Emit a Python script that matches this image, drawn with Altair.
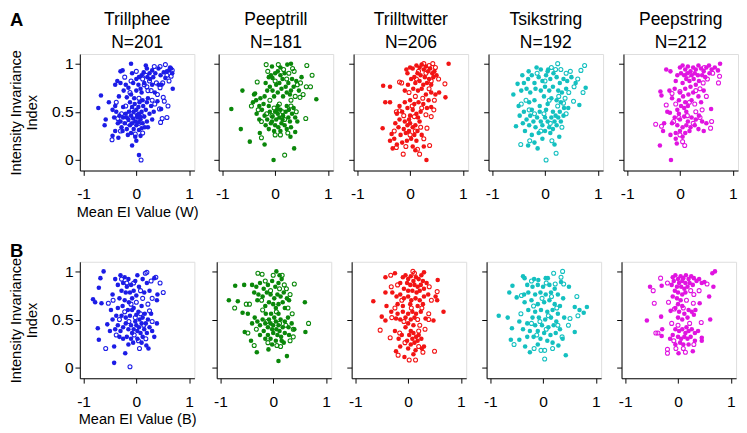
import altair as alt
import pandas as pd

FONT = "Liberation Sans"

names = ["Trillphee", "Peeptrill", "Trilltwitter", "Tsikstring", "Peepstring"]
counts = [201, 181, 206, 192, 212]
colors = ["#1c1ce6", "#0a870a", "#f21414", "#14c0c0", "#e014e0"]
x_ticks = [-1, 0, 1]
y_ticks = [0, 0.5, 1]
x_titles = ["Mean EI Value (W)", "Mean EI Value (B)"]
y_title = ["Intensity Invariance", "Index"]
row_letters = ["A", "B"]

# ---------------- Row A (W) ----------------
F_A1 = [(-0.10,1.00),(0.18,0.98),(0.20,0.95),(0.64,0.96),(0.62,0.93),(0.69,0.74),(-0.30,0.92),(-0.26,0.93),(-0.36,0.82),(-0.30,0.80),(-0.20,0.78),(-0.24,0.72),(-0.15,0.75),(-0.06,0.80),(0.05,0.86),(0.10,0.88),(0.14,0.91),(0.21,0.86),(0.25,0.90),(0.30,0.93),(0.36,0.90),(0.42,0.95),(0.46,0.88),(0.52,0.91),(0.58,0.92),(0.55,0.85),(0.68,0.90),(0.66,0.95),(0.00,0.72),(-0.10,0.68),(0.10,0.70),(-0.33,0.66),(-0.18,0.65),(0.30,0.78),(0.42,0.78),(0.35,0.70),(0.22,0.64),(0.12,0.62),(-0.04,0.64),(0.04,0.78),(0.15,0.80),(0.26,0.84),(-0.40,0.78),(-0.08,0.90),(0.00,0.84),(0.08,0.74),(0.32,0.86),(0.48,0.78),
        (-0.05,0.50),(0.00,0.52),(0.05,0.48),(-0.10,0.46),(0.02,0.44),(-0.15,0.42),(0.08,0.42),(-0.02,0.40),(0.10,0.50),(-0.08,0.55),(0.04,0.55),(-0.20,0.48),(-0.25,0.44),(-0.30,0.40),(-0.22,0.38),(-0.12,0.36),(0.00,0.36),(0.12,0.38),(0.15,0.45),(-0.05,0.32),(0.05,0.31),(-0.18,0.32),(-0.28,0.34),(-0.35,0.38),(-0.32,0.46),(-0.38,0.50),(0.18,0.52),(0.20,0.40),(0.10,0.33),(-0.10,0.28),(0.02,0.47),(-0.06,0.43),(0.07,0.45),(-0.14,0.50),(0.13,0.56),(-0.03,0.58),(0.06,0.60),(0.20,0.60),(-0.12,0.60),(-0.25,0.55),(-0.45,0.52),(-0.42,0.44),(0.25,0.48),(0.28,0.56),(0.30,0.42),(0.22,0.34),(-0.40,0.30),(-0.45,0.25),(-0.34,0.23),(-0.08,0.15),(0.00,0.20),(0.05,0.05),(-0.72,0.54),(-0.67,0.67),(-0.60,0.36),(-0.58,0.42),(-0.52,0.60),(-0.40,0.56),(-0.18,0.44),(-0.08,0.38),(0.04,0.39),(0.16,0.34),(-0.26,0.30),(-0.16,0.26),(0.40,0.61),(0.47,0.53),(0.33,0.50),(-0.02,0.24),(0.08,0.25)]
O_A1 = [(0.34,0.97),(0.45,0.97),(0.55,0.99),(0.68,0.93),(0.66,0.87),(0.50,0.80),(0.45,0.75),(0.38,0.80),(0.25,0.82),(0.20,0.76),(0.15,0.78),(0.28,0.72),(0.40,0.68),(0.51,0.65),(0.53,0.61),(0.58,0.44),(0.49,0.43),(0.46,0.39),(-0.46,0.21),(0.09,0.00),(-0.10,0.82),(-0.22,0.86),(-0.38,0.60),(-0.28,0.48),(-0.35,0.43),(-0.15,0.38),(0.05,0.38),(0.12,0.28),(-0.02,0.27),(-0.08,0.52),(0.30,0.62),(0.12,0.84),(0.58,0.88),(0.35,0.58),(0.22,0.72),(-0.30,0.30),(0.00,0.92),(0.60,0.56),(0.44,0.53),(-0.12,0.70),(0.05,0.64),(0.62,0.82),(0.18,0.88),(-0.20,0.56),(0.10,0.46),(-0.05,0.46)]

F_A2 = [(-0.06,0.97),(0.23,0.99),(0.30,1.00),(0.50,0.86),(0.78,0.63),(-0.62,0.72),(-0.83,0.53),(-0.65,0.32),(-0.48,0.19),(-0.40,0.68),(-0.38,0.69),(-0.42,0.60),(-0.29,0.28),(-0.20,0.16),(-0.03,0.00),(0.36,0.12),(0.29,0.24),(0.38,0.29),
        (-0.12,0.86),(-0.08,0.88),(-0.05,0.85),(0.00,0.90),(0.05,0.92),(0.10,0.88),(0.14,0.84),(0.18,0.90),(0.08,0.80),(0.02,0.78),(-0.10,0.76),(-0.15,0.72),(-0.05,0.72),(0.05,0.70),(0.12,0.74),(0.20,0.76),(0.25,0.80),(0.30,0.72),(0.35,0.76),(0.28,0.68),(0.15,0.66),(-0.02,0.66),(-0.18,0.80),(0.40,0.82),(0.10,0.96),(0.22,0.70),(0.32,0.84),(-0.20,0.66),(0.45,0.72),
        (0.00,0.50),(0.05,0.48),(0.10,0.52),(-0.05,0.45),(0.02,0.42),(0.08,0.44),(0.15,0.46),(0.20,0.50),(0.25,0.44),(-0.10,0.50),(-0.15,0.42),(-0.08,0.38),(0.00,0.36),(0.06,0.34),(0.12,0.38),(0.18,0.36),(0.28,0.40),(0.32,0.48),(0.38,0.44),(-0.20,0.46),(-0.25,0.52),(-0.30,0.56),(-0.22,0.58),(-0.12,0.56),(0.05,0.56),(0.22,0.56),(-0.02,0.30),(-0.12,0.32),(0.10,0.30),(0.22,0.32),(-0.30,0.42),(-0.35,0.48),(0.30,0.34),(-0.18,0.36),(0.14,0.42),(0.04,0.52),(-0.06,0.40),(0.26,0.52),(-0.36,0.62),(-0.28,0.64),(0.42,0.40),(0.35,0.54)]
O_A2 = [(-0.17,0.99),(0.06,0.99),(0.33,0.95),(0.60,0.98),(0.70,0.88),(0.59,0.76),(0.67,0.76),(0.53,0.68),(0.47,0.65),(-0.34,0.81),(-0.45,0.56),(-0.26,0.23),(0.18,0.05),(0.58,0.43),(0.38,0.66),(0.42,0.78),(0.26,0.90),(0.36,0.92),(0.16,0.94),(0.00,0.82),(-0.14,0.92),(0.22,0.84),(0.48,0.80),(0.30,0.62),(-0.10,0.62),(-0.06,0.46),(0.08,0.58),(0.18,0.42),(0.30,0.56),(-0.16,0.48),(-0.26,0.40),(0.10,0.26),(0.00,0.26),(0.24,0.28),(0.40,0.50),(-0.32,0.52),(0.14,0.50),(-0.02,0.54)]

F_A3 = [(0.73,1.00),(-0.07,0.94),(-0.05,0.90),(0.00,0.96),(0.05,0.95),(0.12,0.98),(0.18,0.96),(0.22,0.99),(0.26,0.94),(0.30,0.97),(0.34,0.92),(0.38,0.95),(0.42,0.90),(0.46,0.92),(0.14,0.90),(0.20,0.88),(0.08,0.86),(0.28,0.86),(0.36,0.84),(0.44,0.86),(0.50,0.88),(0.02,0.84),(0.10,0.80),(0.18,0.82),(0.25,0.78),(0.32,0.80),(0.40,0.78),(-0.04,0.78),(0.06,0.74),(0.15,0.72),(0.22,0.74),(-0.10,0.72),(-0.51,0.77),(-0.38,0.76),(-0.47,0.60),(-0.38,0.60),(0.67,0.65),(0.55,0.70),(0.48,0.68),(0.40,0.70),(0.30,0.68),
        (-0.20,0.56),(-0.10,0.60),(0.00,0.62),(0.08,0.58),(0.16,0.60),(0.25,0.58),(0.35,0.62),(-0.25,0.48),(-0.15,0.50),(0.05,0.52),(0.12,0.48),(0.20,0.50),(0.32,0.54),(0.00,0.46),(-0.05,0.54),(0.40,0.55),
        (-0.52,0.33),(-0.35,0.27),(-0.30,0.22),(-0.33,0.12),(0.31,0.00),(0.26,0.14),(-0.10,0.40),(-0.05,0.36),(0.00,0.38),(0.05,0.34),(0.10,0.36),(-0.12,0.32),(-0.08,0.28),(-0.02,0.30),(0.08,0.26),(0.14,0.30),(-0.18,0.26),(-0.22,0.34),(-0.28,0.38),(0.02,0.22),(-0.06,0.20),(0.12,0.20),(-0.15,0.18),(-0.25,0.16),(0.18,0.40),(0.22,0.26),(-0.38,0.20),(0.05,0.14),(-0.02,0.42),(0.15,0.44),(-0.20,0.42),(0.10,0.10)]
O_A3 = [(0.43,1.00),(0.26,1.00),(0.36,0.98),(0.48,0.96),(0.16,0.92),(0.30,0.90),(0.54,0.84),(0.66,0.79),(-0.20,0.81),(-0.16,0.80),(0.45,0.52),(0.32,0.33),(-0.26,0.50),(-0.20,0.51),(-0.26,0.13),(-0.13,0.06),(0.14,0.11),(0.37,0.15),(0.24,0.64),(0.10,0.66),(0.46,0.62),(0.36,0.74),(0.12,0.84),(0.04,0.56),(0.22,0.54),(0.30,0.47),(0.40,0.45),(0.08,0.45),(-0.12,0.46),(0.20,0.34),(0.10,0.30),(-0.30,0.30),(0.00,0.26),(0.26,0.22),(-0.08,0.14),(0.18,0.06),(0.40,0.82),(-0.02,0.70)]

F_A4 = [(0.77,0.75),(0.65,0.57),(-0.60,0.68),(-0.52,0.79),(-0.43,0.88),(-0.31,0.92),(-0.16,0.96),(0.06,0.94),(-0.55,0.35),(-0.32,0.15),(-0.14,0.12),(0.27,0.24),(-0.05,0.22),(0.44,0.54),
        (-0.40,0.80),(-0.32,0.84),(-0.25,0.88),(-0.20,0.80),(-0.12,0.86),(-0.05,0.82),(0.02,0.88),(0.10,0.84),(0.16,0.90),(0.22,0.86),(0.28,0.80),(0.35,0.84),(0.42,0.82),(0.50,0.86),(0.58,0.80),(-0.45,0.72),(-0.35,0.74),(-0.28,0.70),(-0.18,0.74),(-0.08,0.72),(0.00,0.76),(0.08,0.72),(0.15,0.76),(0.25,0.72),(0.32,0.70),(0.40,0.74),(-0.02,0.66),(0.12,0.64),(0.22,0.62),(-0.20,0.62),(-0.30,0.60),(0.30,0.60),(0.05,0.92),(-0.08,0.94),
        (-0.48,0.46),(-0.40,0.50),(-0.35,0.42),(-0.28,0.46),(-0.22,0.40),(-0.15,0.44),(-0.08,0.40),(0.00,0.44),(0.05,0.40),(0.12,0.44),(0.18,0.40),(0.25,0.44),(0.30,0.40),(-0.30,0.36),(-0.18,0.34),(-0.05,0.36),(0.08,0.34),(0.15,0.32),(-0.42,0.38),(-0.10,0.50),(0.02,0.52),(0.15,0.50),(0.28,0.50),(-0.25,0.52),(0.20,0.46),(-0.38,0.30),(0.10,0.28),(-0.12,0.28),(0.00,0.30),(-0.25,0.26),(0.22,0.36),(0.35,0.46),(-0.50,0.56),(-0.10,0.56),(0.05,0.58),(0.36,0.54),(-0.20,0.18),(0.18,0.16)]
O_A4 = [(0.24,1.00),(0.75,0.98),(0.68,0.93),(0.72,0.70),(0.54,0.61),(-0.45,0.58),(-0.36,0.62),(-0.46,0.16),(-0.29,0.20),(0.02,0.00),(0.21,0.07),(0.13,0.20),(0.35,0.59),(0.30,0.94),(0.40,0.90),(0.48,0.92),(0.20,0.94),(0.12,0.96),(0.55,0.76),(0.62,0.84),(0.45,0.70),(-0.15,0.90),(0.00,0.82),(0.26,0.66),(0.38,0.64),(0.08,0.62),(-0.02,0.48),(0.24,0.56),(0.40,0.48),(-0.30,0.52),(-0.20,0.48),(0.10,0.38),(0.32,0.34),(-0.08,0.30)]

F_A5 = [(0.76,1.00),(-0.26,0.94),(-0.18,0.92),(-0.37,0.71),(-0.35,0.67),(-0.24,0.50),(-0.19,0.49),(-0.30,0.38),(-0.32,0.30),(-0.38,0.15),(-0.17,0.00),(-0.06,0.17),(0.59,0.53),(0.45,0.30),(-0.18,0.26),(-0.08,0.22),
        (0.00,0.96),(0.05,0.98),(0.10,0.94),(0.15,0.97),(0.20,0.92),(0.25,0.96),(0.30,0.94),(0.35,0.98),(0.40,0.95),(0.45,0.92),(0.50,0.96),(0.55,0.98),(0.60,0.94),(0.66,0.96),(0.72,0.93),(0.02,0.90),(0.08,0.88),(0.14,0.90),(0.22,0.88),(0.28,0.90),(0.34,0.88),(0.42,0.88),(0.48,0.86),(0.56,0.90),(-0.05,0.88),(0.12,0.84),(0.18,0.82),(0.26,0.84),(0.36,0.82),(0.05,0.80),(-0.08,0.82),(0.30,0.78),(0.20,0.76),(0.10,0.74),
        (-0.20,0.72),(-0.10,0.74),(0.00,0.70),(0.06,0.66),(0.16,0.68),(0.25,0.70),(0.35,0.66),(0.45,0.72),(-0.15,0.64),(-0.02,0.62),(0.10,0.60),(0.22,0.62),(0.40,0.60),(0.02,0.56),(0.08,0.54),(0.15,0.56),(-0.05,0.52),(0.12,0.50),
        (-0.10,0.44),(0.00,0.42),(0.08,0.45),(0.15,0.40),(0.22,0.44),(0.30,0.42),(0.36,0.46),(0.42,0.40),(-0.05,0.36),(0.05,0.34),(0.12,0.36),(0.20,0.34),(0.28,0.36),(-0.15,0.38),(0.00,0.30),(0.10,0.28),(0.18,0.30),(0.35,0.32),(-0.08,0.28),(0.05,0.24),(0.50,0.38),(-0.02,0.48)]
O_A5 = [(0.75,0.87),(0.73,0.80),(-0.15,0.69),(0.00,0.71),(-0.26,0.57),(-0.46,0.37),(-0.35,0.35),(0.05,0.19),(0.09,0.15),(0.60,0.40),(0.58,0.33),(0.62,0.90),(0.52,0.84),(0.44,0.80),(0.30,0.72),(0.38,0.74),(0.50,0.66),(0.28,0.58),(0.42,0.52),(-0.08,0.58),(0.18,0.60),(-0.12,0.40),(0.25,0.38),(0.00,0.26),(0.38,0.44),(0.16,0.88),(0.46,0.96),(-0.02,0.44),(0.14,0.46),(0.30,0.50)]

# ---------------- Row B (B) ----------------
F_B1 = [(-0.62,1.00),(-0.68,0.93),(-0.71,0.83),(-0.82,0.71),(-0.78,0.68),(-0.66,0.67),(-0.45,0.76),(-0.48,0.60),(-0.73,0.41),(-0.71,0.29),(-0.42,0.22),(-0.42,0.05),(-0.21,0.15),(0.34,0.93),(0.39,0.70),(0.40,0.76),(0.39,0.46),(0.34,0.32),(0.19,0.23),(0.23,0.20),
        (-0.40,0.92),(-0.30,0.96),(-0.22,0.94),(-0.15,0.92),(-0.35,0.86),(-0.25,0.88),(-0.18,0.84),(-0.10,0.86),(-0.28,0.80),(-0.20,0.78),(-0.12,0.78),(-0.05,0.80),(0.05,0.84),(0.12,0.92),(0.20,0.88),(0.25,0.80),(0.15,0.78),(-0.32,0.72),(-0.22,0.70),(-0.14,0.68),(-0.08,0.72),(0.00,0.75),(-0.26,0.64),(-0.16,0.60),(-0.05,0.62),(0.10,0.64),(-0.35,0.62),(0.02,0.96),(-0.02,0.90),
        (0.00,0.44),(0.05,0.42),(0.10,0.46),(-0.05,0.40),(0.02,0.38),(0.08,0.36),(0.15,0.40),(-0.10,0.44),(-0.15,0.40),(-0.08,0.36),(-0.02,0.48),(0.06,0.50),(0.12,0.52),(0.18,0.46),(0.22,0.50),(0.25,0.42),(-0.20,0.46),(-0.25,0.42),(-0.30,0.38),(-0.35,0.44),(-0.40,0.40),(-0.45,0.50),(-0.20,0.52),(-0.12,0.54),(-0.28,0.54),(-0.38,0.54),(0.00,0.55),(0.16,0.56),(-0.18,0.32),(-0.10,0.30),(0.02,0.30),(0.12,0.32),(-0.25,0.30),(-0.32,0.32),(0.20,0.36),(-0.50,0.38),(-0.55,0.45),(0.28,0.56),(0.30,0.38),(-0.06,0.26),(0.10,0.26),(-0.15,0.24),(0.04,0.58),(-0.08,0.60)]
O_B1 = [(-0.53,0.67),(-0.44,0.70),(-0.58,0.20),(0.04,0.28),(0.17,0.98),(0.20,0.99),(0.37,0.94),(0.45,0.88),(0.51,0.78),(0.22,0.66),(0.25,0.59),(-0.12,0.01),(-0.18,0.88),(-0.05,0.88),(0.08,0.80),(0.28,0.90),(-0.28,0.92),(0.30,0.72),(0.12,0.72),(-0.10,0.66),(0.00,0.68),(-0.32,0.50),(-0.22,0.58),(0.08,0.56),(-0.04,0.34),(0.14,0.44),(-0.14,0.48),(0.30,0.48),(-0.38,0.34),(0.06,0.20),(-0.02,0.52),(0.18,0.30)]

F_B2 = [(0.06,1.00),(0.12,0.96),(-0.72,0.85),(-0.55,0.86),(-0.84,0.70),(-0.67,0.69),(-0.58,0.57),(-0.48,0.56),(0.60,0.68),(0.61,0.37),(0.29,0.42),(-0.54,0.37),(-0.42,0.28),(-0.31,0.16),(-0.09,0.19),(0.10,0.07),(0.26,0.12),(0.16,0.28),
        (-0.40,0.86),(-0.32,0.84),(-0.25,0.88),(-0.18,0.82),(-0.10,0.86),(-0.02,0.90),(0.04,0.84),(0.10,0.88),(0.16,0.92),(-0.36,0.78),(-0.28,0.76),(-0.20,0.74),(-0.12,0.78),(-0.05,0.76),(0.02,0.72),(0.08,0.76),(0.14,0.74),(0.20,0.78),(0.26,0.72),(-0.08,0.68),(0.00,0.66),(0.10,0.66),(0.18,0.68),(-0.15,0.64),(0.22,0.62),(-0.30,0.70),(0.30,0.70),(0.05,0.62),
        (-0.05,0.46),(0.00,0.44),(0.05,0.48),(0.10,0.44),(-0.10,0.42),(-0.02,0.40),(0.06,0.40),(0.12,0.38),(0.18,0.42),(-0.15,0.46),(-0.20,0.50),(-0.08,0.50),(0.02,0.52),(0.14,0.50),(0.22,0.48),(-0.25,0.44),(-0.30,0.48),(-0.18,0.38),(-0.10,0.34),(0.00,0.36),(0.08,0.34),(0.15,0.32),(0.22,0.36),(-0.05,0.30),(0.05,0.28),(-0.15,0.30),(-0.35,0.52),(-0.40,0.46),(0.28,0.52),(0.35,0.46),(0.30,0.34),(-0.25,0.34),(-0.04,0.56),(0.10,0.56),(-0.14,0.56),(0.20,0.26),(-0.02,0.24),(0.40,0.40)]
O_B2 = [(-0.29,0.98),(-0.21,0.97),(0.00,0.96),(0.17,0.96),(0.21,0.86),(0.40,0.87),(-0.73,0.62),(-0.51,0.66),(-0.45,0.66),(0.67,0.46),(0.38,0.32),(0.38,0.40),(-0.48,0.36),(-0.36,0.23),(0.07,0.23),(-0.15,0.90),(-0.05,0.80),(0.25,0.82),(0.32,0.76),(0.12,0.82),(-0.22,0.70),(0.28,0.62),(-0.20,0.60),(0.06,0.58),(0.24,0.44),(-0.12,0.48),(0.12,0.46),(-0.32,0.40),(0.32,0.28),(-0.10,0.26),(0.14,0.22),(0.36,0.56)]

F_B3 = [(-0.66,0.69),(-0.43,0.94),(-0.25,0.98),(0.30,0.99),(0.56,0.91),(0.52,0.74),(0.55,0.70),(-0.43,0.78),(-0.41,0.64),(-0.50,0.53),(-0.43,0.49),(-0.23,0.51),(-0.25,0.38),(-0.23,0.17),(-0.07,0.11),(0.26,0.20),(0.67,0.58),(0.33,0.51),(0.48,0.49),
        (-0.10,0.94),(-0.05,0.96),(0.00,0.92),(0.05,0.95),(0.10,0.90),(0.15,0.94),(0.20,0.92),(0.25,0.96),(0.28,0.90),(-0.02,0.88),(0.04,0.86),(0.12,0.86),(0.18,0.84),(0.24,0.86),(-0.15,0.88),(0.08,0.80),(0.16,0.78),(0.22,0.80),(0.30,0.82),(0.35,0.88),(0.00,0.80),(-0.08,0.82),
        (-0.30,0.78),(-0.22,0.74),(-0.15,0.76),(-0.08,0.72),(0.00,0.74),(0.06,0.70),(0.14,0.72),(0.22,0.70),(0.30,0.74),(0.38,0.76),(-0.20,0.66),(-0.10,0.64),(0.04,0.66),(0.18,0.64),(0.28,0.66),
        (-0.32,0.58),(-0.20,0.56),(-0.10,0.58),(0.00,0.56),(0.08,0.58),(0.15,0.56),(0.24,0.58),(-0.05,0.52),(0.05,0.50),(0.12,0.52),(-0.15,0.50),(0.00,0.46),(0.10,0.44),(-0.05,0.42),
        (0.05,0.38),(0.02,0.34),(0.10,0.36),(0.15,0.32),(0.08,0.30),(0.18,0.28),(0.12,0.26),(0.05,0.24),(0.20,0.34),(-0.02,0.28),(0.25,0.30),(-0.12,0.34),(-0.18,0.30),(0.00,0.20),(0.14,0.18),(-0.15,0.22),(0.10,0.14),(0.30,0.22)]
O_B3 = [(-0.33,0.96),(0.09,1.00),(0.55,0.79),(-0.32,0.84),(-0.31,0.52),(-0.53,0.39),(-0.34,0.31),(-0.16,0.36),(-0.19,0.13),(0.02,0.08),(0.28,0.16),(0.50,0.17),(0.39,0.56),(0.39,0.50),(0.20,0.38),(0.44,0.70),(0.40,0.84),(0.12,0.98),(-0.20,0.86),(0.26,0.62),(-0.25,0.62),(0.18,0.50),(-0.08,0.48),(0.06,0.62),(0.22,0.44),(-0.06,0.26),(0.20,0.22),(0.32,0.40),(-0.12,0.70),(0.14,0.08)]

F_B4 = [(0.05,0.93),(0.09,0.93),(-0.09,0.91),(-0.17,0.92),(-0.38,0.95),(-0.35,0.93),(0.34,0.89),(0.49,0.84),(-0.58,0.85),(-0.64,0.78),(-0.50,0.73),(-0.36,0.76),(0.60,0.63),(0.69,0.60),(0.83,0.63),(0.77,0.57),(0.60,0.37),(-0.84,0.54),(-0.67,0.52),(-0.59,0.41),(-0.61,0.29),(-0.45,0.29),(-0.34,0.22),(-0.25,0.16),(0.29,0.23),(0.37,0.30),(0.43,0.13),
        (-0.30,0.86),(-0.20,0.84),(-0.10,0.86),(0.00,0.84),(0.12,0.86),(0.22,0.82),(-0.28,0.78),(-0.15,0.76),(-0.05,0.78),(0.05,0.76),(0.15,0.78),(0.28,0.76),(0.38,0.72),(-0.35,0.68),(-0.22,0.70),(-0.10,0.66),(0.02,0.68),(0.12,0.70),(0.22,0.66),(0.32,0.64),(-0.28,0.60),(-0.15,0.58),(-0.04,0.60),(0.08,0.58),(0.18,0.60),(0.28,0.56),(-0.20,0.52),(-0.08,0.52),(0.04,0.50),(0.15,0.52),(0.25,0.48),(-0.30,0.46),(-0.15,0.44),(-0.02,0.44),(0.10,0.42),(0.20,0.44),(0.32,0.40),(-0.38,0.40),(-0.25,0.38),(-0.10,0.38),(0.02,0.36),(0.14,0.34),(0.24,0.36),(-0.18,0.32),(-0.05,0.30),(0.08,0.28),(-0.30,0.32),(0.18,0.26),(-0.45,0.48),(0.40,0.52),(-0.10,0.24)]
O_B4 = [(0.37,1.00),(0.20,0.98),(0.34,0.94),(0.39,0.87),(0.23,0.87),(-0.41,0.75),(0.64,0.74),(0.66,0.54),(0.51,0.51),(0.48,0.44),(-0.55,0.24),(-0.42,0.56),(-0.17,0.20),(-0.04,0.18),(0.03,0.18),(0.03,0.09),(0.18,0.20),(-0.22,0.90),(0.06,0.88),(0.16,0.74),(-0.02,0.72),(0.26,0.62),(-0.18,0.64),(0.10,0.54),(-0.06,0.48),(0.28,0.44),(-0.22,0.46),(0.06,0.40),(0.36,0.32),(-0.12,0.34)]

F_B5 = [(0.70,1.00),(0.65,0.98),(0.67,0.84),(0.50,0.89),(-0.53,0.84),(-0.31,0.85),(0.41,0.67),(0.33,0.60),(0.59,0.74),(0.61,0.50),(0.45,0.31),(0.45,0.28),(0.32,0.28),(-0.59,0.49),(-0.32,0.53),(-0.30,0.40),(-0.31,0.33),(0.01,0.15),(0.28,0.17),(-0.14,0.59),
        (-0.10,0.94),(-0.05,0.96),(0.00,0.92),(0.05,0.95),(0.10,0.93),(0.15,0.96),(0.20,0.92),(0.25,0.95),(0.30,0.93),(0.35,0.90),(-0.08,0.90),(0.02,0.88),(0.08,0.90),(0.14,0.88),(0.22,0.88),(0.28,0.86),(0.40,0.92),(0.45,0.88),(-0.02,0.84),(0.06,0.84),(0.12,0.82),(0.18,0.84),(-0.12,0.86),(0.00,0.78),(0.08,0.76),(0.14,0.78),(-0.06,0.80),
        (-0.10,0.74),(-0.02,0.72),(0.05,0.70),(0.00,0.66),(0.08,0.64),(-0.05,0.62),(0.02,0.58),(0.12,0.56),(0.20,0.60),(0.26,0.58),(0.30,0.55),(0.18,0.52),(0.08,0.50),(0.00,0.52),
        (-0.05,0.40),(0.02,0.38),(0.08,0.40),(0.14,0.36),(0.20,0.38),(0.26,0.40),(0.32,0.36),(-0.10,0.34),(0.00,0.32),(0.06,0.30),(0.12,0.32),(0.18,0.30),(0.24,0.32),(-0.15,0.30),(0.04,0.26),(0.10,0.24),(0.20,0.24),(-0.05,0.24),(0.16,0.42),(0.38,0.38)]
O_B5 = [(0.55,0.87),(-0.33,0.93),(-0.47,0.80),(-0.45,0.67),(0.29,0.67),(0.44,0.47),(-0.42,0.36),(-0.38,0.36),(-0.20,0.19),(-0.20,0.15),(-0.04,0.20),(-0.18,0.68),(-0.07,0.61),(0.24,0.80),(0.30,0.76),(0.10,0.62),(0.16,0.70),(-0.12,0.46),(0.22,0.46),(0.00,0.44),(-0.08,0.28),(0.10,0.20),(0.30,0.24),(0.40,0.80),(-0.20,0.88),(0.14,0.16)]

rows_data = [
    [(F_A1, O_A1), (F_A2, O_A2), (F_A3, O_A3), (F_A4, O_A4), (F_A5, O_A5)],
    [(F_B1, O_B1), (F_B2, O_B2), (F_B3, O_B3), (F_B4, O_B4), (F_B5, O_B5)],
]

PW, PH = 118, 120


def text_layer(txt, x, y, size, weight="normal", align="center"):
    return alt.Chart(pd.DataFrame({"t": [txt]})).mark_text(
        font=FONT, fontSize=size, fontWeight=weight, align=align, baseline="alphabetic", color="black"
    ).encode(text="t:N", x=alt.value(x), y=alt.value(y))


def make_panel(filled, opened, color, row, col):
    df = pd.DataFrame(
        [{"x": a, "y": b, "kind": "filled"} for a, b in filled]
        + [{"x": a, "y": b, "kind": "open"} for a, b in opened]
    )
    xkw = dict(values=x_ticks, labelExpr="'' + datum.value", tickSize=5, labelPadding=11,
               labelFontSize=16, grid=False, domainColor="black", tickColor="black",
               labelColor="black", labelFont=FONT)
    if col == 0:
        xkw.update(title=x_titles[row], titleFontSize=15, titleFontWeight="normal",
                   titlePadding=3, titleColor="black", titleFont=FONT)
    else:
        xkw.update(title=None)
    ykw = dict(values=y_ticks, labelExpr="'' + datum.value", tickSize=5, labelPadding=2,
               labelFontSize=16, grid=False, domainColor="black", tickColor="black",
               labelColor="black", labelFont=FONT)
    if col == 0:
        ykw.update(title=y_title, titleFontSize=15, titleFontWeight="normal",
                   titlePadding=12, titleColor="black", titleFont=FONT, titleLineHeight=17)
    else:
        ykw.update(title=None, labels=False)
    xs = alt.X("x:Q", scale=alt.Scale(domain=[-1.07, 1.1], nice=False, zero=False), axis=alt.Axis(**xkw))
    ys = alt.Y("y:Q", scale=alt.Scale(domain=[-0.11, 1.1], nice=False, zero=False), axis=alt.Axis(**ykw))
    base = alt.Chart(df)
    open_layer = base.transform_filter(alt.datum.kind == "open").mark_point(
        shape="circle", filled=False, size=17, strokeWidth=1.1, color=color, opacity=1
    ).encode(x=xs, y=ys)
    fill_layer = base.transform_filter(alt.datum.kind == "filled").mark_circle(
        size=22, color=color, opacity=1
    ).encode(x=xs, y=ys)
    layers = [open_layer, fill_layer]
    if col == 0:
        layers.append(text_layer(row_letters[row], -72, -29 if row == 0 else -5, 19, "bold", "left"))
    if row == 0:
        layers.append(text_layer(names[col], PW / 2, -30, 18))
        layers.append(text_layer(f"N={counts[col]}", PW / 2, -6, 18))
    return alt.layer(*layers).properties(width=PW, height=PH)


rows = []
for r in range(2):
    panels = [make_panel(rows_data[r][c][0], rows_data[r][c][1], colors[c], r, c) for c in range(5)]
    rows.append(alt.hconcat(*panels, spacing=14))

chart = alt.vconcat(*rows, spacing=22).properties(
    padding={"top": -4, "left": 0, "right": 0, "bottom": 0}
).configure_view(stroke=None).configure(font=FONT)

chart.save("out.html", embed_options={"renderer": "svg", "actions": False})
